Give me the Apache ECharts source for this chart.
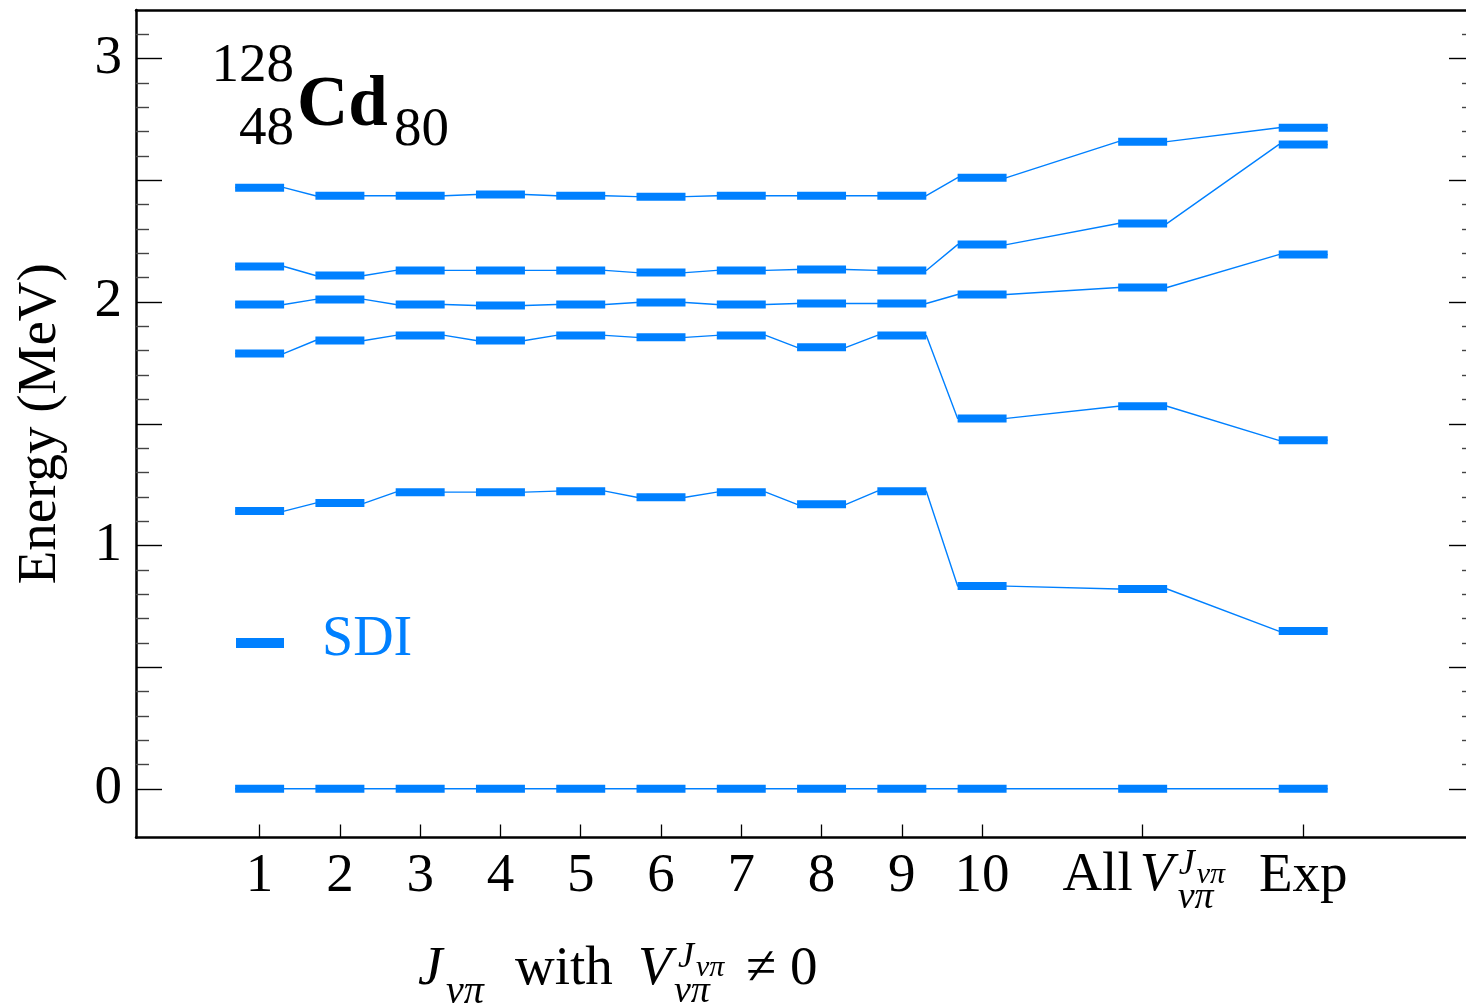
<!DOCTYPE html>
<html>
<head>
<meta charset="utf-8">
<script src="https://cdn.jsdelivr.net/npm/echarts@6/dist/echarts.min.js"></script>
<style>html,body{margin:0;padding:0;background:#fff;}#c{width:1466px;height:1004px;}</style>
</head>
<body>
<div id="c"></div>
<script>
// ---- data ----
const xPos = [1, 2, 3, 4, 5, 6, 7, 8, 9, 10, 12, 14];
const xTickLabels = ['1', '2', '3', '4', '5', '6', '7', '8', '9', '10', 'All', 'Exp'];
const level0 = [0, 0, 0, 0, 0, 0, 0, 0, 0, 0, 0, 0];
const level1 = [1.141, 1.174, 1.219, 1.219, 1.223, 1.198, 1.219, 1.169, 1.223, 0.833, 0.821, 0.648];
const level2 = [1.789, 1.842, 1.863, 1.842, 1.863, 1.855, 1.863, 1.814, 1.863, 1.522, 1.572, 1.432];
const level3 = [1.990, 2.011, 1.990, 1.986, 1.990, 1.998, 1.990, 1.994, 1.994, 2.031, 2.060, 2.195];
const level4 = [2.146, 2.109, 2.130, 2.130, 2.130, 2.121, 2.130, 2.134, 2.130, 2.236, 2.323, 2.647];
const level5 = [2.470, 2.437, 2.437, 2.442, 2.437, 2.433, 2.437, 2.437, 2.437, 2.511, 2.659, 2.716];
const yLabelValues = [0, 1, 2, 3];
const yMajorTicks = [0, 0.5, 1, 1.5, 2, 2.5, 3];
const yMinorTicks = [0.1, 0.2, 0.3, 0.4, 0.6, 0.7, 0.8, 0.9, 1.1, 1.2, 1.3, 1.4, 1.6, 1.7, 1.8, 1.9,
  2.1, 2.2, 2.3, 2.4, 2.6, 2.7, 2.8, 2.9, 3.1];
const seriesName = 'SDI';

// ---- style ----
const BLUE = '#0080ff';
const FONT = "'Liberation Serif', 'Times New Roman', serif";
const HALF = 0.305;   // half width of a level bar in x units
const levels = [level0, level1, level2, level3, level4, level5];

const chart = echarts.init(document.getElementById('c'), null, {renderer: 'canvas'});

const series = [];
levels.forEach((lv, k) => {
  const pts = [];
  xPos.forEach((x, i) => { pts.push([x - HALF, lv[i]]); pts.push([x + HALF, lv[i]]); });
  series.push({
    type: 'line', name: seriesName, data: pts, showSymbol: false, symbol: 'none',
    xAxisIndex: 0, yAxisIndex: 0,
    lineStyle: {color: BLUE, width: 1.4}, silent: true, z: 2, animation: false
  });
  series.push({
    type: 'custom', name: seriesName, data: xPos.map((x, i) => [x, lv[i]]),
    xAxisIndex: 0, yAxisIndex: 0,
    clip: false, z: 3, animation: false, silent: true,
    renderItem: function (params, api) {
      const a = api.coord([api.value(0) - HALF, api.value(1)]);
      const b = api.coord([api.value(0) + HALF, api.value(1)]);
      return {type: 'rect', shape: {x: a[0], y: a[1] - 4, width: b[0] - a[0], height: 8},
        style: {fill: BLUE}};
    }
  });
});

const gridRect = {left: 136, top: 10, width: 1339, height: 827.5, containLabel: false, outerBoundsMode: 'none'};
const yBase = {type: 'value', min: -0.2, max: 3.2, splitLine: {show: false}};
const xBase = {type: 'value', min: -0.54, max: 16.14, splitLine: {show: false}};
const option = {
  animation: false,
  backgroundColor: '#fff',
  grid: [Object.assign({}, gridRect), Object.assign({}, gridRect)],
  xAxis: [
    Object.assign({}, xBase, {
      gridIndex: 0, position: 'bottom',
      axisLine: {show: true, onZero: false, lineStyle: {color: '#000', width: 2.5}},
      axisTick: {show: true, inside: true, length: 13, customValues: xPos, lineStyle: {color: '#000', width: 1.3}},
      axisLabel: {
        show: true, customValues: xPos, margin: 12,
        fontFamily: FONT, fontSize: 55, color: '#000',
        formatter: function (v) { const i = xPos.indexOf(v); if (i < 0) return ''; const s = xTickLabels[i]; return s === 'All' ? '' : s; }
      }
    }),
    Object.assign({}, xBase, {
      gridIndex: 1, position: 'top',
      axisTick: {show: false}, axisLabel: {show: false},
      axisLine: {show: true, onZero: false, lineStyle: {color: '#000', width: 2.5}}
    })
  ],
  yAxis: [
    Object.assign({}, yBase, {
      gridIndex: 0, position: 'left',
      name: 'Energy (MeV)', nameLocation: 'middle', nameGap: 68, nameRotate: 90,
      nameTextStyle: {fontFamily: FONT, fontSize: 55, color: '#000'},
      axisLine: {show: true, onZero: false, lineStyle: {color: '#000', width: 2.5}},
      axisTick: {show: true, inside: true, length: 26, customValues: yMajorTicks, lineStyle: {color: '#000', width: 1.4}},
      axisLabel: {show: true, customValues: yLabelValues, margin: 14, fontFamily: FONT, fontSize: 55, color: '#000'}
    }),
    Object.assign({}, yBase, {
      gridIndex: 0, position: 'right',
      axisLine: {show: true, onZero: false, lineStyle: {color: '#000', width: 2.5}},
      axisTick: {show: true, inside: true, length: 26, customValues: yMajorTicks, lineStyle: {color: '#000', width: 1.4}},
      axisLabel: {show: false}
    }),
    Object.assign({}, yBase, {
      gridIndex: 1, position: 'left',
      axisLine: {show: false, onZero: false},
      axisTick: {show: true, inside: true, length: 13, customValues: yMinorTicks, lineStyle: {color: '#444', width: 1.4}},
      axisLabel: {show: false}
    }),
    Object.assign({}, yBase, {
      gridIndex: 1, position: 'right',
      axisLine: {show: false, onZero: false},
      axisTick: {show: true, inside: true, length: 13, customValues: yMinorTicks, lineStyle: {color: '#444', width: 1.4}},
      axisLabel: {show: false}
    })
  ],
  series: series
};
chart.setOption(option);

// ---- text decorations ----
function txt(x, y, s, size, opts) {
  opts = opts || {};
  return {
    type: 'text', x: x, y: y, z: 10, silent: true,
    style: {
      text: s, fontFamily: FONT, fontSize: size, fill: opts.fill || '#000',
      fontStyle: opts.italic ? 'italic' : 'normal', fontWeight: opts.bold ? 'bold' : 'normal',
      align: opts.align || 'left', verticalAlign: 'middle'
    }
  };
}
const allX = chart.convertToPixel({xAxisIndex: 0}, 12);
const graphics = [
  // nucleus label
  txt(294, 67, '128', 55, {align: 'right'}),
  txt(294, 130, '48', 55, {align: 'right'}),
  txt(297, 107, 'Cd', 71, {bold: true}),
  txt(394, 131, '80', 55),
  // legend
  {type: 'rect', shape: {x: 236, y: 638, width: 48, height: 10}, style: {fill: BLUE}, z: 10, silent: true},
  txt(322, 640, seriesName, 56, {fill: BLUE}),
  // tick label "All V^{J_vpi}_{vpi}"
  txt(allX - 10, 876, 'All', 55, {align: 'right'}),
  txt(allX - 3, 876, 'V', 55, {italic: true}),
  txt(allX + 36, 865, 'J', 36, {italic: true}),
  txt(allX + 54, 875, 'νπ', 30, {italic: true}),
  txt(allX + 35, 898, 'νπ', 38, {italic: true}),
  // x axis title
  txt(418, 970, 'J', 55, {italic: true}),
  txt(446, 992, 'νπ', 40, {italic: true}),
  txt(515, 970, 'with', 55),
  txt(638, 970, 'V', 55, {italic: true}),
  txt(678, 958, 'J', 36, {italic: true}),
  txt(696, 968, 'νπ', 30, {italic: true}),
  txt(674, 992, 'νπ', 38, {italic: true}),
  txt(746, 970, '≠ 0', 55)
];
chart.setOption({graphic: graphics});
</script>
</body>
</html>
